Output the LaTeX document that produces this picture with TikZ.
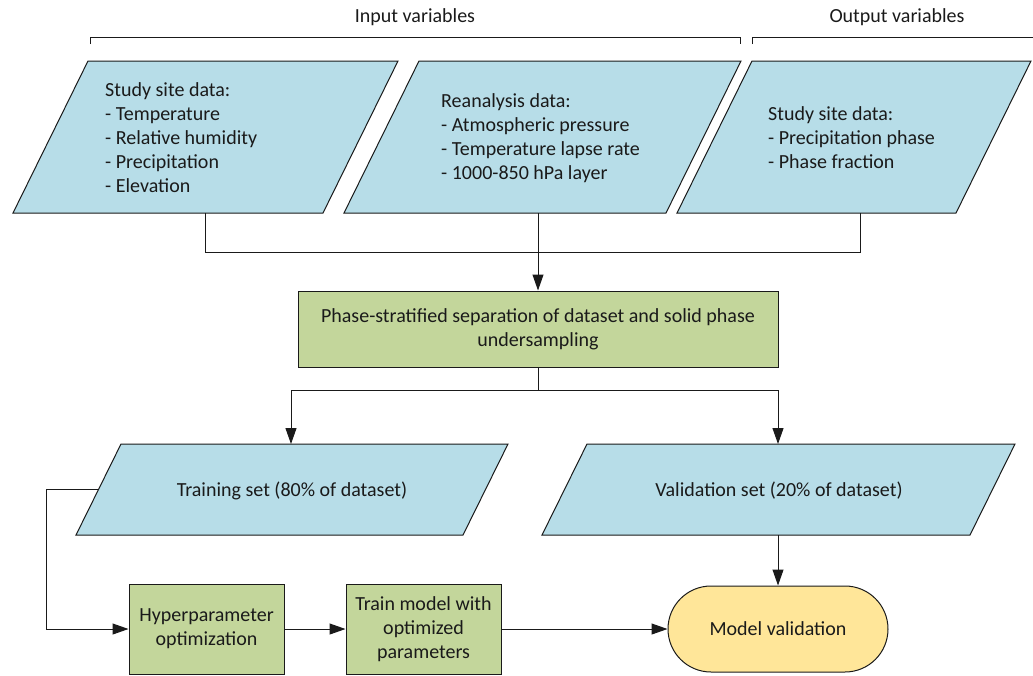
\documentclass[tikz,border=0pt]{standalone}
\usepackage{fontspec}
\setmainfont{Carlito}
\usetikzlibrary{arrows.meta}
\definecolor{pblue}{HTML}{B7DDE8}
\definecolor{pgreen}{HTML}{C3D69B}
\definecolor{pyellow}{HTML}{FFE699}
\definecolor{ink}{HTML}{1A1A1A}
\tikzset{
  shapeline/.style={draw=ink, line width=1pt},
  parafill/.style={shapeline, fill=pblue},
  txt/.style={inner sep=0pt, text=ink, font=\fontsize{20}{24}\selectfont},
  ltxt/.style={txt, align=left, anchor=west},
  gbox/.style={shapeline, fill=pgreen, text=ink, align=center, inner sep=0pt, font=\fontsize{20}{24}\selectfont},
  conn/.style={draw=ink, line width=1pt},
  arr/.style={conn, -{Triangle[length=16pt,width=11pt]}},
}
\begin{document}
\begin{tikzpicture}[x=1pt, y=-1pt]
\useasboundingbox (0,0) rectangle (1033,675);
% top brackets
\node[txt] (inlab) at (415,17) {Input variables};
\node[txt] (outlab) at (897,17) {Output variables};
\draw[conn] (90,44) -- (90,37) -- (740,37) -- (740,44);
\draw[conn] (752,44) -- (752,37) -- (1033,37);
% parallelograms top row
\draw[parafill] (88,61) -- (398,61) -- (323,213) -- (13,213) -- cycle;
\draw[parafill] (419,61) -- (741,61) -- (666,213) -- (344,213) -- cycle;
\draw[parafill] (752,61) -- (1031,61) -- (956,213) -- (677,213) -- cycle;
\node[ltxt] (p1) at (105,137.5) {Study site data:\\- Temperature\\- Relative humidity\\- Precipitation\\- Elevation};
\node[ltxt] (p2) at (441,138) {Reanalysis data:\\- Atmospheric pressure\\- Temperature lapse rate\\- 1000-850 hPa layer};
\node[ltxt] (p3) at (768,138) {Study site data:\\- Precipitation phase\\- Phase fraction};
\coordinate (p1b) at (205,213);
\coordinate (p2b) at (538,213);
\coordinate (p3b) at (860,213);
% separation box
\node[gbox, minimum width=480, minimum height=76] (sep) at (538,329) {Phase-stratified separation of dataset and solid phase\\undersampling};
\draw[conn] (p1b) -- ++(0,39) -| (p3b);
\draw[arr] (p2b) -- (sep.north);
% train / validation sets
\draw[parafill] (121,444) -- (508,444) -- (463,535) -- (76,535) -- cycle;
\draw[parafill] (587,444) -- (1015,444) -- (970,535) -- (542,535) -- cycle;
\node[txt] (trn) at (292,491) {Training set (80\% of dataset)};
\node[txt] (val) at (779,491) {Validation set (20\% of dataset)};
\coordinate (trntop) at (291,444);
\coordinate (valtop) at (778,444);
\coordinate (trnleft) at (98.5,489);
\coordinate (valbot) at (778,535);
\draw[arr] (sep.south) -- ++(0,23) -| (trntop);
\draw[arr] (sep.south) -- ++(0,23) -| (valtop);
% bottom row
\node[gbox, minimum width=155, minimum height=90] (hyp) at (206.5,629) {Hyperparameter\\optimization};
\node[gbox, minimum width=155, minimum height=90] (tm) at (423.5,629) {Train model with\\optimized\\parameters};
\node[shapeline, fill=pyellow, minimum width=220, minimum height=86, rounded corners=43pt, txt, draw=ink] (mv) at (778,629) {Model validation};
\draw[arr] (trnleft) -- (46,489) |- (hyp.west);
\draw[arr] (hyp.east) -- (tm.west);
\draw[arr] (tm.east) -- (mv.west);
\draw[arr] (valbot) -- (mv.north);
\end{tikzpicture}
\end{document}
